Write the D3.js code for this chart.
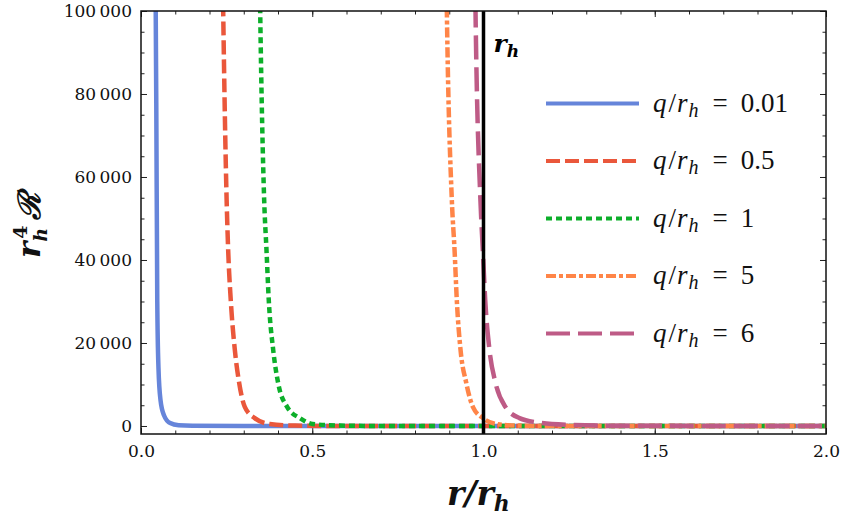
<!DOCTYPE html>
<html>
<head>
<meta charset="utf-8">
<script src="https://cdn.jsdelivr.net/npm/d3@7"></script>
<style>
  body { margin: 0; background: #fff; }
  svg { display: block; }
  .tick text { font-family: "DejaVu Serif", serif; font-size: 17px; fill: #111; }
  .axis path, .axis line { stroke: #222; }
</style>
</head>
<body>
<svg width="843" height="525"></svg>
<script>
// curve data (x = r/r_h, y = r_h^4 R)
const xBlue = [0.0415, 0.043, 0.0446, 0.0475, 0.051, 0.057, 0.067, 0.085, 0.11, 0.15, 0.3, 2.0];
const yBlue = [130000, 100000, 78000, 30000, 14000, 6200, 2600, 700, 150, 30, 0, 0];

const xRed = [0.236, 0.240, 0.250, 0.2545, 0.262, 0.274, 0.2866, 0.303, 0.332, 0.376, 0.45, 0.6, 2.0];
const yRed = [125000, 100000, 54500, 42400, 30400, 18300, 10400, 4600, 1900, 480, 100, 0, 0];

const xGreen = [0.344, 0.348, 0.3596, 0.3664, 0.373, 0.386, 0.4003, 0.4266, 0.4636, 0.501, 0.58, 0.7, 2.0];
const yGreen = [125000, 100000, 54500, 42400, 30400, 18300, 10400, 4600, 1900, 480, 100, 0, 0];

const xOrange = [0.889, 0.893, 0.9075, 0.9155, 0.922, 0.933, 0.9496, 0.969, 0.998, 1.037, 1.1, 1.2, 2.0];
const yOrange = [125000, 100000, 54500, 42400, 30400, 18300, 10400, 4600, 1900, 480, 100, 0, 0];

const xPink = [0.973, 0.9767, 0.991, 0.998, 1.005, 1.0175, 1.035, 1.064, 1.105, 1.163, 1.24, 1.4, 2.0];
const yPink = [125000, 100000, 54500, 42400, 30400, 18300, 10400, 4600, 1900, 800, 300, 50, 0];

const qLabels = ['0.01', '0.5', '1', '5', '6'];
const xTicks = [0.0, 0.5, 1.0, 1.5, 2.0];
const yTicks = [0, 20000, 40000, 60000, 80000, 100000];

const series = [
  { q: qLabels[0], xs: xBlue, ys: yBlue, color: '#6685da', dash: null },
  { q: qLabels[1], xs: xRed, ys: yRed, color: '#ea573b', dash: '14,5' },
  { q: qLabels[2], xs: xGreen, ys: yGreen, color: '#0caf2a', dash: '6,4' },
  { q: qLabels[3], xs: xOrange, ys: yOrange, color: '#ff8548', dash: '10,3,4,3' },
  { q: qLabels[4], xs: xPink, ys: yPink, color: '#be5b86', dash: '24,8' }
];

const svg = d3.select('svg');
const pl = 141, pr = 826, pt = 11, pb = 434;

const x = d3.scaleLinear().domain([0, 2]).range([pl, pr]);
const y = d3.scaleLinear().domain([-1930, 100000]).range([pb, pt]);

const loc = d3.formatLocale({ decimal: '.', thousands: '\u2009', grouping: [3], currency: ['', ''] });

svg.append('clipPath').attr('id', 'plot')
  .append('rect')
  .attr('x', pl).attr('y', pt)
  .attr('width', pr - pl).attr('height', pb - pt);

// minor ticks
const minorX = d3.range(0, 2.0001, 0.1);
const minorY = d3.range(0, 100001, 5000);

svg.append('g').attr('class', 'axis')
  .attr('transform', `translate(0,${pb})`)
  .call(d3.axisBottom(x).tickValues(minorX).tickSize(-3.5).tickFormat(''));
svg.append('g').attr('class', 'axis')
  .attr('transform', `translate(0,${pt})`)
  .call(d3.axisTop(x).tickValues(minorX).tickSize(-3.5).tickFormat(''));
svg.append('g').attr('class', 'axis')
  .attr('transform', `translate(${pl},0)`)
  .call(d3.axisLeft(y).tickValues(minorY).tickSize(-3.5).tickFormat(''));
svg.append('g').attr('class', 'axis')
  .attr('transform', `translate(${pr},0)`)
  .call(d3.axisRight(y).tickValues(minorY).tickSize(-3.5).tickFormat(''));

// major ticks
svg.append('g').attr('class', 'axis')
  .attr('transform', `translate(0,${pb})`)
  .call(d3.axisBottom(x).tickValues(xTicks).tickSize(-6).tickPadding(11).tickFormat(d3.format('.1f')));
svg.append('g').attr('class', 'axis')
  .attr('transform', `translate(0,${pt})`)
  .call(d3.axisTop(x).tickValues(xTicks).tickSize(-6).tickFormat(''));
svg.append('g').attr('class', 'axis')
  .attr('transform', `translate(${pl},0)`)
  .call(d3.axisLeft(y).tickValues(yTicks).tickSize(-6).tickPadding(9).tickFormat(loc.format(',')));
svg.append('g').attr('class', 'axis')
  .attr('transform', `translate(${pr},0)`)
  .call(d3.axisRight(y).tickValues(yTicks).tickSize(-6).tickFormat(''));

svg.selectAll('.axis path.domain').remove();

const line = d3.line()
  .x(d => x(d[0]))
  .y(d => y(d[1]))
  .curve(d3.curveMonotoneX);

const curves = svg.append('g').attr('clip-path', 'url(#plot)');

series.forEach(s => {
  curves.append('path')
    .datum(s.xs.map((v, i) => [v, s.ys[i]]))
    .attr('d', line)
    .attr('fill', 'none')
    .attr('stroke', s.color)
    .attr('stroke-width', 4.5)
    .attr('stroke-dasharray', s.dash);
});

// horizon line
curves.append('line')
  .attr('x1', x(1)).attr('x2', x(1))
  .attr('y1', pt).attr('y2', pb)
  .attr('stroke', '#000')
  .attr('stroke-width', 3.5);

svg.append('text')
  .attr('x', x(1) + 10).attr('y', 52)
  .attr('font-family', 'DejaVu Serif, serif')
  .attr('font-size', 25).attr('font-weight', 'bold').attr('font-style', 'italic')
  .text('r')
  .append('tspan')
  .attr('font-size', 17).attr('dy', 5)
  .text('h');

// frame
svg.append('rect')
  .attr('x', pl).attr('y', pt)
  .attr('width', pr - pl).attr('height', pb - pt)
  .attr('fill', 'none')
  .attr('stroke', '#111')
  .attr('stroke-width', 1.5);

// legend
const legend = svg.append('g');
series.forEach((s, i) => {
  const ly = 103.5 + i * 57.5;
  legend.append('line')
    .attr('x1', 546).attr('x2', 639)
    .attr('y1', ly).attr('y2', ly)
    .attr('stroke', s.color)
    .attr('stroke-width', 4)
    .attr('stroke-dasharray', s.dash);
  const t = legend.append('text')
    .attr('x', 653).attr('y', ly + 8)
    .attr('font-family', 'Liberation Serif, serif')
    .attr('font-size', 27)
    .attr('fill', '#111');
  t.append('tspan').attr('font-style', 'italic').text('q');
  t.append('tspan').attr('dx', 2).text('/');
  t.append('tspan').attr('font-style', 'italic').attr('dx', 1).text('r');
  t.append('tspan').attr('font-style', 'italic').attr('font-size', 20).attr('dy', 5).attr('dx', 1).text('h');
  t.append('tspan').attr('dy', -5).attr('dx', 14).text('=');
  t.append('tspan').attr('dx', 13).text(s.q);
});

// axis titles
const xt = svg.append('text')
  .attr('x', 447).attr('y', 505)
  .attr('font-family', 'DejaVu Serif, serif')
  .attr('font-size', 33).attr('font-weight', 'bold').attr('font-style', 'italic')
  .attr('fill', '#111')
  .text('r/r');
xt.append('tspan').attr('font-size', 22).attr('dy', 6).text('h');

const yt = svg.append('text')
  .attr('transform', 'translate(40,258) rotate(-90)')
  .attr('font-family', 'DejaVu Serif, serif')
  .attr('font-size', 31).attr('font-weight', 'bold').attr('font-style', 'italic')
  .attr('fill', '#111')
  .text('r');
yt.append('tspan').attr('font-size', 19).attr('dy', 7).text('h');
yt.append('tspan').attr('font-size', 19).attr('dx', -11).attr('dy', -20).attr('font-style', 'normal').text('4');
yt.append('tspan').attr('dy', 13).attr('dx', 6).text('\u211B');
</script>
</body>
</html>
